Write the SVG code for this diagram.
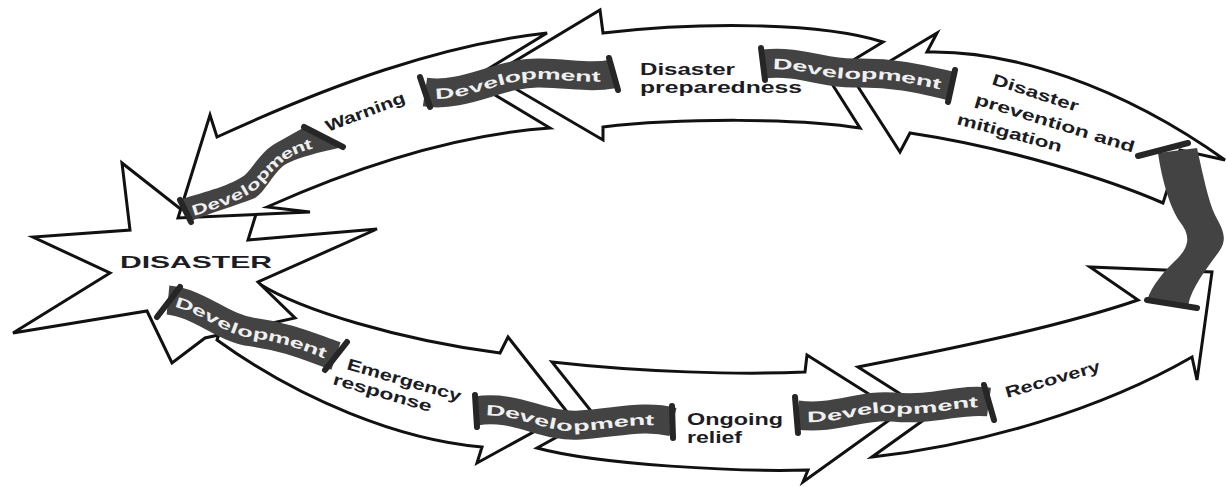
<svg xmlns="http://www.w3.org/2000/svg" xmlns:xlink="http://www.w3.org/1999/xlink" width="1227" height="487" viewBox="0 0 1227 487">
<style>
.arr{fill:#ffffff;stroke:#111111;stroke-width:3;stroke-linejoin:miter}
.star{fill:#ffffff;stroke:#111111;stroke-width:3;stroke-linejoin:miter}
.band{fill:none;stroke:#434343;stroke-width:29}
.bandf{fill:#434343;stroke:none}
.cap{stroke:#262626;stroke-width:6;stroke-linecap:round}
.dev{font-family:"Liberation Sans",Arial,sans-serif;font-weight:bold;font-size:15px;fill:#f0f0f0;dominant-baseline:central}
.lbl{font-family:"Liberation Sans",Arial,sans-serif;font-weight:bold;font-size:16px;fill:#1c1c24}
.big{font-family:"Liberation Sans",Arial,sans-serif;font-weight:bold;font-size:17px;fill:#1c1c24}
</style>
<defs>
<path id="p1" d="M190,211 C215,203 240,195 254,183 C267,170 276,155 300,146 L330,137"/>
<path id="p2" d="M425,92 C465,98 500,72 540,73 C575,74 590,78 613,74"/>
<path id="p3" d="M763,64 C800,60 825,74 855,73 C895,72 925,80 951,86"/>
<path id="p4" d="M168,300 C200,303 222,328 252,332 C290,337 312,348 336,356"/>
<path id="p5" d="M476,411 C515,404 545,428 580,425 C620,422 645,415 673,422"/>
<path id="p6" d="M797,415 C835,420 862,404 893,407 C935,411 960,398 989,402"/>
</defs>
<rect x="0" y="0" width="1227" height="487" fill="#ffffff"/>
<g id="connectors">
<path id="arrow-emergency" class="arr" d="M258,283 C300,310 400,340 500,353 L508,337 L568,413 L477,463 L482,447 C400,440 300,400 217,340 L230,300 Z"/>
<g id="disaster">
<polygon class="star" points="122,163 192,218 265,185 248,240 377,229 258,282 295,318 205,338 172,363 147,311 13,333 110,273 33,237 130,230"/>
</g>
<path id="arrow-warning" class="arr" d="M547,33 C440,45 330,85 217,137 L210,115 L178,218 L310,212 L267,207 C350,170 450,135 550,128 L470,80 Z"/>
<path id="arrow-preparedness" class="arr" d="M603,33 C700,22 820,22 883,42 L827,76 L860,128 C800,118 680,118 603,127 L603,140 L492,75 L600,10 Z"/>
<path id="arrow-prevention" class="arr" d="M927,52 C1010,50 1120,85 1225,160 L1180,150 L1163,203 C1110,180 1010,148 910,133 L900,152 L855,82 L937,33 Z"/>
<path id="arrow-relief" class="arr" d="M552,362 C640,372 740,375 805,372 L807,355 L899,413 L803,482 L808,470 C740,472 600,465 537,448 L595,416 Z"/>
<path id="arrow-recovery" class="arr" d="M858,367 C920,355 1050,330 1138,300 L1090,267 L1212,272 L1197,380 L1192,357 C1100,410 980,445 872,457 L932,414 Z"/>
</g>
<g id="dev1">
<path class="bandf" d="M182,199 C205,192 232,185 245,175 C255,165 262,150 278,142 L303,128 L343,147 C320,152 295,158 283,166 C272,175 265,192 255,198 C235,206 210,213 191,221 Z"/>
<line class="cap" x1="180" y1="200" x2="191" y2="222"/>
<line class="cap" x1="304" y1="127" x2="343" y2="147"/>
<text class="dev" font-size="14"><textPath xlink:href="#p1" startOffset="2" textLength="140" lengthAdjust="spacingAndGlyphs">Development</textPath></text>
</g>
<g id="dev2">
<use xlink:href="#p2" class="band"/>
<line class="cap" x1="420" y1="77" x2="430" y2="107"/>
<line class="cap" x1="609" y1="58" x2="618" y2="90"/>
<text class="dev"><textPath xlink:href="#p2" startOffset="10" textLength="168" lengthAdjust="spacingAndGlyphs">Development</textPath></text>
</g>
<g id="dev3">
<use xlink:href="#p3" class="band"/>
<line class="cap" x1="761" y1="48" x2="765" y2="80"/>
<line class="cap" x1="955" y1="70" x2="948" y2="102"/>
<text class="dev"><textPath xlink:href="#p3" startOffset="10" textLength="170" lengthAdjust="spacingAndGlyphs">Development</textPath></text>
</g>
<g id="dev4">
<use xlink:href="#p4" class="band"/>
<line class="cap" x1="180" y1="287" x2="157" y2="317"/>
<line class="cap" x1="347" y1="342" x2="325" y2="370"/>
<text class="dev"><textPath xlink:href="#p4" startOffset="8" textLength="160" lengthAdjust="spacingAndGlyphs">Development</textPath></text>
</g>
<g id="dev5">
<use xlink:href="#p5" class="band"/>
<line class="cap" x1="475" y1="395" x2="477" y2="427"/>
<line class="cap" x1="672" y1="406" x2="673" y2="438"/>
<text class="dev"><textPath xlink:href="#p5" startOffset="10" textLength="170" lengthAdjust="spacingAndGlyphs">Development</textPath></text>
</g>
<g id="dev6">
<use xlink:href="#p6" class="band"/>
<line class="cap" x1="795" y1="397" x2="798" y2="433"/>
<line class="cap" x1="984" y1="385" x2="994" y2="420"/>
<text class="dev"><textPath xlink:href="#p6" startOffset="10" textLength="172" lengthAdjust="spacingAndGlyphs">Development</textPath></text>
</g>
<g id="dev7">
<path class="bandf" d="M1158,153 L1197,148 C1203,175 1208,200 1215,215 C1222,228 1228,238 1220,250 C1210,265 1192,285 1188,306 L1147,300 C1152,285 1165,270 1178,258 C1190,245 1190,235 1180,222 C1170,208 1162,180 1158,153 Z"/>
<line class="cap" x1="1138" y1="156" x2="1188" y2="143"/>
<line class="cap" x1="1147" y1="300" x2="1197" y2="308"/>
</g>
<g id="labels">
<text class="big" x="120" y="268" textLength="152" lengthAdjust="spacingAndGlyphs">DISASTER</text>
<text class="lbl" x="328" y="132" transform="rotate(-21 328 132)" textLength="84" lengthAdjust="spacingAndGlyphs">Warning</text>
<text class="lbl" x="640" y="75" textLength="95" lengthAdjust="spacingAndGlyphs">Disaster</text>
<text class="lbl" x="640" y="93" textLength="162" lengthAdjust="spacingAndGlyphs">preparedness</text>
<text class="lbl" x="991" y="84" transform="rotate(18 991 84)" textLength="90" lengthAdjust="spacingAndGlyphs">Disaster</text>
<text class="lbl" x="974" y="104" transform="rotate(17 974 104)" textLength="166" lengthAdjust="spacingAndGlyphs">prevention and</text>
<text class="lbl" x="956" y="124" transform="rotate(15 956 124)" textLength="108" lengthAdjust="spacingAndGlyphs">mitigation</text>
<text class="lbl" x="346" y="369" transform="rotate(16 346 369)" textLength="118" lengthAdjust="spacingAndGlyphs">Emergency</text>
<text class="lbl" x="332" y="384" transform="rotate(16 332 384)" textLength="102" lengthAdjust="spacingAndGlyphs">response</text>
<text class="lbl" x="687" y="425" textLength="96" lengthAdjust="spacingAndGlyphs">Ongoing</text>
<text class="lbl" x="687" y="443" textLength="55" lengthAdjust="spacingAndGlyphs">relief</text>
<text class="lbl" x="1007" y="398" transform="rotate(-16 1007 398)" textLength="98" lengthAdjust="spacingAndGlyphs">Recovery</text>
</g>
</svg>
